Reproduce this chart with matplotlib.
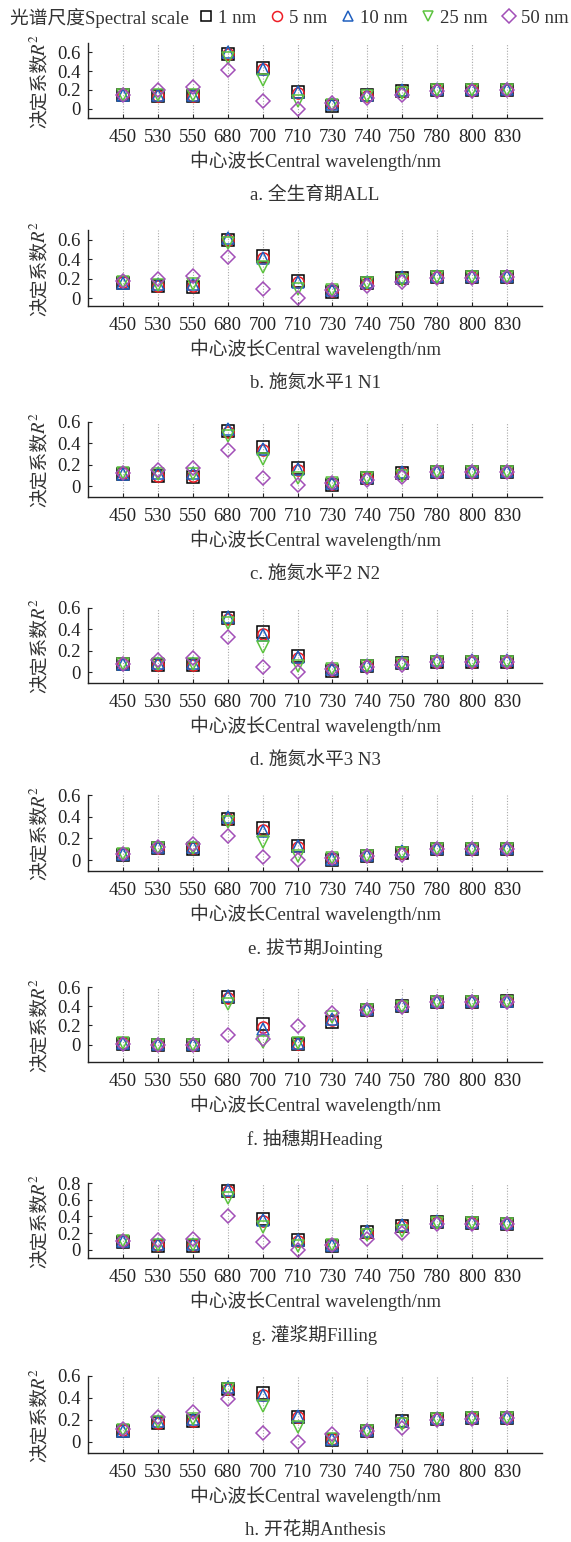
import numpy as np
import matplotlib
matplotlib.use('Agg')
import matplotlib.pyplot as plt
from matplotlib.lines import Line2D
from matplotlib.ticker import FuncFormatter

plt.rc('font', family=['Liberation Serif', 'Noto Sans CJK SC'], size=13.5)
plt.rc('mathtext', fontset='stix')

# data
wavelengths = ['450', '530', '550', '680', '700', '710', '730', '740', '750', '780', '800', '830']
scales = ['1 nm', '5 nm', '10 nm', '25 nm', '50 nm']
captions = ['a. 全生育期ALL', 'b. 施氮水平1 N1', 'c. 施氮水平2 N2', 'd. 施氮水平3 N3',
            'e. 拔节期Jointing', 'f. 抽穗期Heading', 'g. 灌浆期Filling', 'h. 开花期Anthesis']

# rows: 1, 5, 10, 25, 50 nm
r2_all = [[0.14, 0.13, 0.13, 0.58, 0.43, 0.18, 0.03, 0.14, 0.19, 0.20, 0.20, 0.20],
          [0.15, 0.13, 0.13, 0.58, 0.42, 0.17, 0.05, 0.13, 0.19, 0.20, 0.20, 0.20],
          [0.14, 0.15, 0.15, 0.60, 0.42, 0.18, 0.05, 0.14, 0.20, 0.21, 0.21, 0.21],
          [0.15, 0.14, 0.15, 0.54, 0.30, 0.08, 0.04, 0.13, 0.17, 0.20, 0.20, 0.20],
          [0.15, 0.20, 0.23, 0.41, 0.08, 0.00, 0.06, 0.11, 0.14, 0.19, 0.19, 0.20]]
r2_n1 = [[0.16, 0.13, 0.12, 0.60, 0.43, 0.18, 0.06, 0.16, 0.21, 0.22, 0.22, 0.22],
         [0.17, 0.13, 0.13, 0.60, 0.41, 0.17, 0.07, 0.16, 0.21, 0.22, 0.22, 0.22],
         [0.16, 0.15, 0.15, 0.62, 0.41, 0.17, 0.08, 0.17, 0.22, 0.23, 0.23, 0.23],
         [0.17, 0.14, 0.15, 0.57, 0.32, 0.09, 0.08, 0.16, 0.19, 0.22, 0.22, 0.22],
         [0.18, 0.20, 0.23, 0.42, 0.09, 0.00, 0.08, 0.13, 0.17, 0.21, 0.21, 0.22]]
r2_n2 = [[0.11, 0.10, 0.09, 0.52, 0.37, 0.17, 0.01, 0.08, 0.12, 0.13, 0.13, 0.13],
         [0.12, 0.10, 0.10, 0.51, 0.34, 0.15, 0.02, 0.08, 0.12, 0.13, 0.13, 0.13],
         [0.11, 0.12, 0.12, 0.53, 0.35, 0.16, 0.03, 0.09, 0.13, 0.14, 0.14, 0.14],
         [0.12, 0.11, 0.11, 0.47, 0.25, 0.08, 0.03, 0.08, 0.10, 0.13, 0.13, 0.13],
         [0.12, 0.15, 0.17, 0.34, 0.08, 0.01, 0.03, 0.06, 0.09, 0.13, 0.13, 0.13]]
r2_n3 = [[0.08, 0.07, 0.07, 0.51, 0.38, 0.15, 0.01, 0.06, 0.09, 0.10, 0.10, 0.10],
         [0.08, 0.07, 0.07, 0.50, 0.36, 0.13, 0.02, 0.06, 0.09, 0.10, 0.10, 0.10],
         [0.08, 0.09, 0.09, 0.52, 0.35, 0.14, 0.03, 0.07, 0.10, 0.11, 0.11, 0.11],
         [0.08, 0.08, 0.08, 0.46, 0.24, 0.06, 0.03, 0.06, 0.08, 0.10, 0.10, 0.10],
         [0.08, 0.11, 0.13, 0.33, 0.05, 0.00, 0.03, 0.05, 0.07, 0.10, 0.10, 0.10]]
r2_jointing = [[0.05, 0.11, 0.10, 0.38, 0.30, 0.13, 0.00, 0.04, 0.07, 0.10, 0.10, 0.10],
               [0.06, 0.11, 0.11, 0.38, 0.28, 0.12, 0.01, 0.04, 0.07, 0.10, 0.10, 0.10],
               [0.06, 0.12, 0.12, 0.40, 0.27, 0.13, 0.01, 0.05, 0.08, 0.11, 0.11, 0.11],
               [0.06, 0.11, 0.11, 0.35, 0.17, 0.04, 0.02, 0.04, 0.07, 0.10, 0.10, 0.10],
               [0.06, 0.12, 0.15, 0.22, 0.03, 0.00, 0.02, 0.04, 0.05, 0.10, 0.10, 0.10]]
r2_heading = [[0.01, 0.00, 0.00, 0.50, 0.22, 0.01, 0.24, 0.36, 0.40, 0.44, 0.44, 0.45],
              [0.02, 0.00, 0.00, 0.49, 0.18, 0.01, 0.26, 0.36, 0.40, 0.44, 0.44, 0.45],
              [0.02, 0.01, 0.01, 0.51, 0.16, 0.02, 0.27, 0.37, 0.41, 0.45, 0.45, 0.45],
              [0.02, 0.00, 0.00, 0.42, 0.03, 0.02, 0.29, 0.36, 0.39, 0.44, 0.44, 0.44],
              [0.01, 0.00, 0.00, 0.10, 0.06, 0.19, 0.33, 0.36, 0.39, 0.44, 0.44, 0.44]]
r2_filling = [[0.09, 0.05, 0.05, 0.70, 0.37, 0.12, 0.05, 0.21, 0.29, 0.33, 0.32, 0.31],
              [0.10, 0.06, 0.06, 0.70, 0.35, 0.11, 0.06, 0.20, 0.28, 0.33, 0.32, 0.31],
              [0.10, 0.07, 0.07, 0.72, 0.36, 0.12, 0.06, 0.22, 0.30, 0.34, 0.33, 0.32],
              [0.10, 0.06, 0.06, 0.62, 0.27, 0.05, 0.06, 0.18, 0.23, 0.32, 0.32, 0.31],
              [0.11, 0.12, 0.13, 0.40, 0.09, 0.00, 0.06, 0.13, 0.20, 0.31, 0.31, 0.31]]
r2_anthesis = [[0.10, 0.17, 0.19, 0.48, 0.45, 0.23, 0.02, 0.10, 0.19, 0.21, 0.22, 0.22],
               [0.11, 0.17, 0.19, 0.48, 0.43, 0.23, 0.03, 0.10, 0.18, 0.21, 0.22, 0.22],
               [0.10, 0.19, 0.21, 0.50, 0.43, 0.24, 0.03, 0.11, 0.19, 0.22, 0.23, 0.23],
               [0.11, 0.18, 0.21, 0.48, 0.33, 0.14, 0.03, 0.10, 0.16, 0.21, 0.22, 0.22],
               [0.12, 0.23, 0.27, 0.39, 0.08, 0.00, 0.07, 0.10, 0.13, 0.20, 0.21, 0.22]]

panels = [r2_all, r2_n1, r2_n2, r2_n3, r2_jointing, r2_heading, r2_filling, r2_anthesis]
ylims = [(-0.1, 0.7), (-0.08, 0.7), (-0.1, 0.6), (-0.1, 0.6),
         (-0.1, 0.6), (-0.18, 0.6), (-0.1, 0.8), (-0.1, 0.6)]

# styles
markers = ['s', 'o', '^', 'v', 'D']
colors = ['black', '#ee1c25', '#1f5fbf', '#5cc33f', '#a24fb7']
ms = [8, 8, 8, 8, 7.5]

# layout in pixels (fig 571x1542)
W, H = 571, 1542
ax_left, ax_right = 88, 542
ax_tops = [43, 230, 422, 608, 795, 987, 1183, 1376]
ax_bots = [118, 306, 497, 683, 871, 1062, 1258, 1453]

fig = plt.figure(figsize=(W / 100, H / 100), dpi=100)
x = np.arange(len(wavelengths))
fmt = FuncFormatter(lambda v, p: '0' if abs(v) < 1e-9 else f'{v:.1f}')
txtc = '#333333'

for i, data in enumerate(panels):
    ax = fig.add_axes([ax_left / W, 1 - ax_bots[i] / H,
                       (ax_right - ax_left) / W, (ax_bots[i] - ax_tops[i]) / H])
    for j in range(len(scales)):
        ax.plot(x, data[j], ls='none', marker=markers[j], ms=ms[j], mfc='none',
                mec=colors[j], mew=1.1, zorder=3 + j)
    for xx in x:
        ax.axvline(xx, color='#a8a8a8', ls=(0, (1, 1.5)), lw=0.8, zorder=1)
    ax.set_xlim(-1, 12)
    top = ylims[i][1]
    ax.set_yticks(np.arange(0, top + 0.01, 0.2))
    ax.set_ylim(*ylims[i])
    ax.yaxis.set_major_formatter(fmt)
    ax.set_xticks(x)
    ax.set_xticklabels(wavelengths)
    ax.tick_params(axis='both', direction='in', length=3, width=0.8, colors='#222222',
                   labelcolor='#222222')
    ax.tick_params(axis='x', pad=8)
    ax.tick_params(axis='y', pad=5)
    for s in ['top', 'right']:
        ax.spines[s].set_visible(False)
    for s in ['left', 'bottom']:
        ax.spines[s].set_linewidth(1.0)
        ax.spines[s].set_color('#222222')
    # y label: CJK part and italic R^2 drawn as two pieces
    ax.annotate('决定系数', xy=(0, 0.5), xycoords='axes fraction',
                xytext=(-48, -10), textcoords='offset pixels', rotation=90,
                ha='center', va='center', color=txtc)
    ax.annotate('$R^2$', xy=(0, 0.5), xycoords='axes fraction',
                xytext=(-48, 25), textcoords='offset pixels', rotation=90,
                ha='center', va='bottom', color=txtc)
    ax.annotate('中心波长Central wavelength/nm', xy=(0.5, 0), xycoords='axes fraction',
                xytext=(0, -43), textcoords='offset pixels', ha='center', va='center',
                color=txtc)
    ax.annotate(captions[i], xy=(0.5, 0), xycoords='axes fraction',
                xytext=(0, -77), textcoords='offset pixels', ha='center', va='center',
                color=txtc)

# legend row at the top
fig.text(10 / W, 1 - 18 / H, '光谱尺度Spectral scale', ha='left', va='center', color=txtc)
handles = [Line2D([], [], ls='none', marker=markers[j], ms=ms[j] * 0.9, mfc='none',
                  mec=colors[j], mew=1.1) for j in range(len(scales))]
fig.legend(handles, scales, loc='center left', bbox_to_anchor=(198 / W, 1 - 18 / H),
           ncol=5, frameon=False, handlelength=0.8, handletextpad=0.25,
           columnspacing=0.7, borderpad=0, borderaxespad=0, labelcolor=txtc)

fig.savefig('out.png', dpi=100)
